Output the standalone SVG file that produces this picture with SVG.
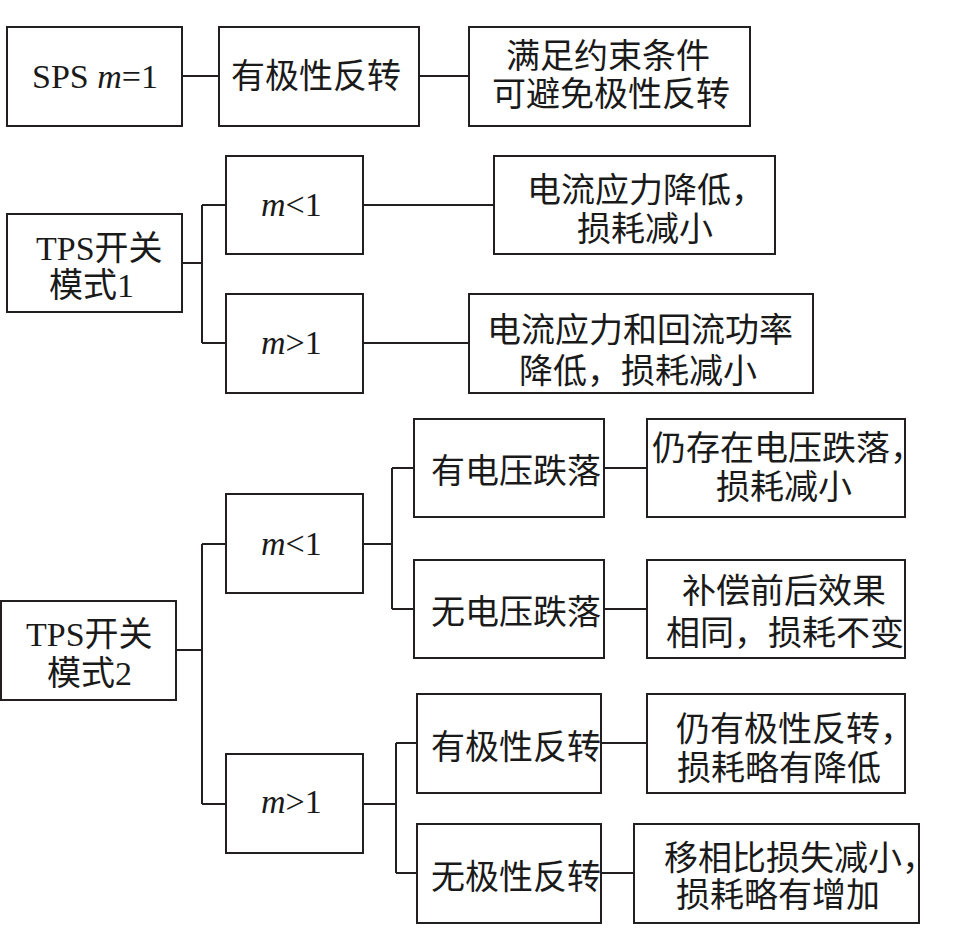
<svg xmlns="http://www.w3.org/2000/svg" width="969" height="937" viewBox="0 0 969 937">
<style>
  .box { fill: #ffffff; stroke: #231f20; stroke-width: 2; }
  .conn { fill: none; stroke: #231f20; stroke-width: 2; }
  text { font-family: "Liberation Serif", "Noto Sans CJK SC", serif; font-size: 34px; fill: #1a1a1a; }
  .it { font-style: italic; }
</style>
<rect x="0" y="0" width="969" height="937" fill="#ffffff"/>
<g id="connectors">
  <path class="conn" d="M182,76 H219"/>
  <path class="conn" d="M419,76 H469"/>
  <path class="conn" d="M182,263 H202 M202,205 V343 M202,205 H226 M202,343 H226"/>
  <path class="conn" d="M363,205 H494"/>
  <path class="conn" d="M363,343 H469"/>
  <path class="conn" d="M176,650 H202 M202,544 V804 M202,544 H226 M202,804 H226"/>
  <path class="conn" d="M363,544 H392 M392,468 V609 M392,468 H414 M392,609 H414"/>
  <path class="conn" d="M604,468 H647"/>
  <path class="conn" d="M604,609 H647"/>
  <path class="conn" d="M363,804 H396 M396,743 V873 M396,743 H417 M396,873 H417"/>
  <path class="conn" d="M601,743 H647"/>
  <path class="conn" d="M601,873 H634"/>
</g>
<g id="sps">
  <rect class="box" x="7" y="27" width="175" height="99"/>
  <text x="32" y="88">SPS <tspan class="it">m</tspan>=1</text>
</g>
<g id="sps-flip">
  <rect class="box" x="219" y="27" width="200" height="99"/>
  <text x="231" y="88">有极性反转</text>
</g>
<g id="sps-avoid">
  <rect class="box" x="469" y="27" width="281" height="99"/>
  <text x="506" y="68">满足约束条件</text>
  <text x="492" y="106">可避免极性反转</text>
</g>
<g id="tps1">
  <rect class="box" x="7" y="214" width="175" height="98"/>
  <text x="36" y="260">TPS开关</text>
  <text x="49" y="297">模式1</text>
</g>
<g id="tps1-lt">
  <rect class="box" x="226" y="156" width="137" height="98"/>
  <text x="261" y="216"><tspan class="it">m</tspan>&lt;1</text>
</g>
<g id="tps1-gt">
  <rect class="box" x="226" y="294" width="137" height="99"/>
  <text x="261" y="354"><tspan class="it">m</tspan>&gt;1</text>
</g>
<g id="tps1-lt-result">
  <rect class="box" x="494" y="156" width="281" height="98"/>
  <text x="527" y="202">电流应力降低，</text>
  <text x="577" y="241">损耗减小</text>
</g>
<g id="tps1-gt-result">
  <rect class="box" x="469" y="294" width="344" height="99"/>
  <text x="487" y="342">电流应力和回流功率</text>
  <text x="519" y="383">降低，损耗减小</text>
</g>
<g id="tps2">
  <rect class="box" x="1" y="601" width="175" height="99"/>
  <text x="26" y="646">TPS开关</text>
  <text x="47" y="685">模式2</text>
</g>
<g id="tps2-lt">
  <rect class="box" x="226" y="494" width="137" height="99"/>
  <text x="261" y="555"><tspan class="it">m</tspan>&lt;1</text>
</g>
<g id="tps2-gt">
  <rect class="box" x="226" y="754" width="137" height="99"/>
  <text x="261" y="813"><tspan class="it">m</tspan>&gt;1</text>
</g>
<g id="vd-yes">
  <rect class="box" x="414" y="419" width="190" height="98"/>
  <text x="431" y="483">有电压跌落</text>
</g>
<g id="vd-no">
  <rect class="box" x="414" y="560" width="190" height="98"/>
  <text x="431" y="624">无电压跌落</text>
</g>
<g id="vd-yes-result">
  <rect class="box" x="647" y="419" width="258" height="98"/>
  <text x="652" y="460">仍存在电压跌落，</text>
  <text x="716" y="499">损耗减小</text>
</g>
<g id="vd-no-result">
  <rect class="box" x="647" y="560" width="258" height="98"/>
  <text x="682" y="603">补偿前后效果</text>
  <text x="666" y="645">相同，损耗不变</text>
</g>
<g id="pf-yes">
  <rect class="box" x="417" y="694" width="184" height="99"/>
  <text x="431" y="759">有极性反转</text>
</g>
<g id="pf-no">
  <rect class="box" x="417" y="824" width="184" height="99"/>
  <text x="431" y="889">无极性反转</text>
</g>
<g id="pf-yes-result">
  <rect class="box" x="647" y="694" width="258" height="99"/>
  <text x="676" y="741">仍有极性反转，</text>
  <text x="677" y="780">损耗略有降低</text>
</g>
<g id="pf-no-result">
  <rect class="box" x="634" y="824" width="285" height="99"/>
  <text x="664" y="870">移相比损失减小，</text>
  <text x="676" y="907">损耗略有增加</text>
</g>
</svg>
